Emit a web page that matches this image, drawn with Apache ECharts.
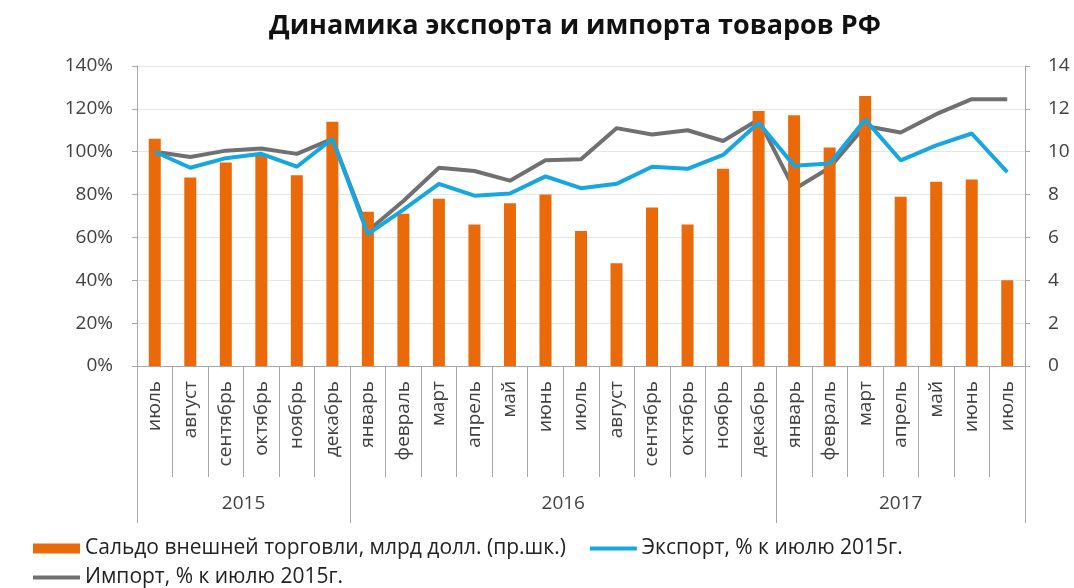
<!DOCTYPE html>
<html>
<head>
<meta charset="utf-8">
<script src="https://cdn.jsdelivr.net/npm/echarts@6/dist/echarts.min.js"></script>
<style>
  html, body { margin: 0; padding: 0; background: #fff; }
  #chart { width: 1074px; height: 588px; }
</style>
</head>
<body>
<div id="chart"></div>
<script>
const months = [
  'июль', 'август', 'сентябрь', 'октябрь', 'ноябрь', 'декабрь',
  'январь', 'февраль', 'март', 'апрель', 'май', 'июнь', 'июль', 'август', 'сентябрь', 'октябрь', 'ноябрь', 'декабрь',
  'январь', 'февраль', 'март', 'апрель', 'май', 'июнь', 'июль'
];
// year groups: label and index of the first month in the group
const years = ['2015', '2016', '2017'];
const yearStarts = [0, 6, 18];

// trade balance, bn USD (right scale)
const balance = [10.6, 8.8, 9.5, 9.8, 8.9, 11.4, 7.2, 7.1, 7.8, 6.6, 7.6, 8.0, 6.3, 4.8, 7.4, 6.6, 9.2, 11.9, 11.7, 10.2, 12.6, 7.9, 8.6, 8.7, 4.0];
// export, % of July 2015
const exportPct = [100, 92.5, 97, 99, 93, 106, 61.5, 73, 85, 79.5, 80.5, 88.5, 83, 85, 93, 92, 98.5, 113.5, 93.5, 94.5, 115, 96, 103, 108.5, 90.5];
// import, % of July 2015
const importPct = [100, 97.5, 100.5, 101.5, 99, 106, 63, 77, 92.5, 91, 86.5, 96, 96.5, 111, 108, 110, 105, 115, 82.5, 92.5, 112, 109, 117.5, 124.5, 124.5];

const leftTicks = { min: 0, max: 140, interval: 20 };
const rightTicks = { min: 0, max: 14, interval: 2 };

const font = 'Open Sans';
const textColor = '#404040';
const lineColor = '#a6a6a6';
const barName = 'Сальдо внешней торговли, млрд долл. (пр.шк.)';
const exportName = 'Экспорт, % к июлю 2015г.';
const importName = 'Импорт, % к июлю 2015г.';
const lineIcon = 'path://M0,0 L47,0 L47,4 L0,4 Z';

// center of each year group, in month units (used for the year row labels)
const yearCenters = yearStarts.map((s, i) => {
  const e = i + 1 < yearStarts.length ? yearStarts[i + 1] : months.length;
  return (s + e) / 2;
});

const legendBase = {
  left: 28,
  itemWidth: 47,
  itemHeight: 10,
  itemGap: 24,
  textStyle: { fontFamily: font, fontSize: 21, color: '#222' }
};

const chart = echarts.init(document.getElementById('chart'));
const option = {
  animation: false,
  title: {
    text: 'Динамика экспорта и импорта товаров РФ',
    left: 264,
    top: 8,
    textStyle: { fontFamily: font, fontSize: 27, fontWeight: 'bold', color: '#111' }
  },
  legend: [
    {
      ...legendBase,
      top: 533,
      data: [
        { name: barName, icon: 'rect' },
        { name: exportName, icon: lineIcon }
      ]
    },
    {
      ...legendBase,
      top: 562,
      data: [{ name: importName, icon: lineIcon }]
    }
  ],
  grid: { left: 137, right: 49, top: 66, bottom: 222 },
  xAxis: [
    {
      type: 'category',
      data: months,
      position: 'bottom',
      axisLine: { lineStyle: { color: lineColor } },
      axisTick: { show: true, interval: 0, length: 111, lineStyle: { color: lineColor } },
      axisLabel: {
        interval: 0, rotate: 90, margin: 15,
        fontFamily: font, fontSize: 19, color: textColor
      }
    },
    {
      type: 'category',
      data: months,
      position: 'bottom',
      axisLine: { show: false },
      axisTick: {
        show: true,
        length: 157,
        interval: (idx) => yearStarts.includes(idx),
        lineStyle: { color: lineColor }
      },
      axisLabel: { show: false }
    },
    {
      type: 'value',
      position: 'bottom',
      min: 0,
      max: months.length,
      interval: 0.5,
      axisLine: { show: false },
      axisTick: { show: false },
      splitLine: { show: false },
      axisLabel: {
        margin: 128,
        fontFamily: font, fontSize: 19, color: textColor,
        formatter: (v) => {
          const i = yearCenters.indexOf(v);
          return i >= 0 ? years[i] : '';
        }
      }
    }
  ],
  yAxis: [
    {
      type: 'value',
      ...leftTicks,
      axisLine: { show: true, lineStyle: { color: lineColor } },
      axisTick: { show: true, length: 5, lineStyle: { color: lineColor } },
      splitLine: { show: true, lineStyle: { color: '#e6e6e6' } },
      axisLabel: { formatter: '{value}%', margin: 24, fontFamily: font, fontSize: 19, color: textColor }
    },
    {
      type: 'value',
      ...rightTicks,
      position: 'right',
      axisLine: { show: true, lineStyle: { color: lineColor } },
      axisTick: { show: true, length: 5, lineStyle: { color: lineColor } },
      splitLine: { show: false },
      axisLabel: { margin: 23, fontFamily: font, fontSize: 19, color: textColor }
    }
  ],
  series: [
    {
      name: barName,
      type: 'bar',
      yAxisIndex: 1,
      data: balance,
      barWidth: 12,
      itemStyle: { color: '#ea6a0a' }
    },
    {
      name: exportName,
      type: 'line',
      data: exportPct,
      symbol: 'none',
      lineStyle: { color: '#17a7e0', width: 4 },
      itemStyle: { color: '#17a7e0' }
    },
    {
      name: importName,
      type: 'line',
      data: importPct,
      symbol: 'none',
      z: 1,
      lineStyle: { color: '#707070', width: 4 },
      itemStyle: { color: '#707070' }
    }
  ]
};
chart.setOption(option);
</script>
</body>
</html>
